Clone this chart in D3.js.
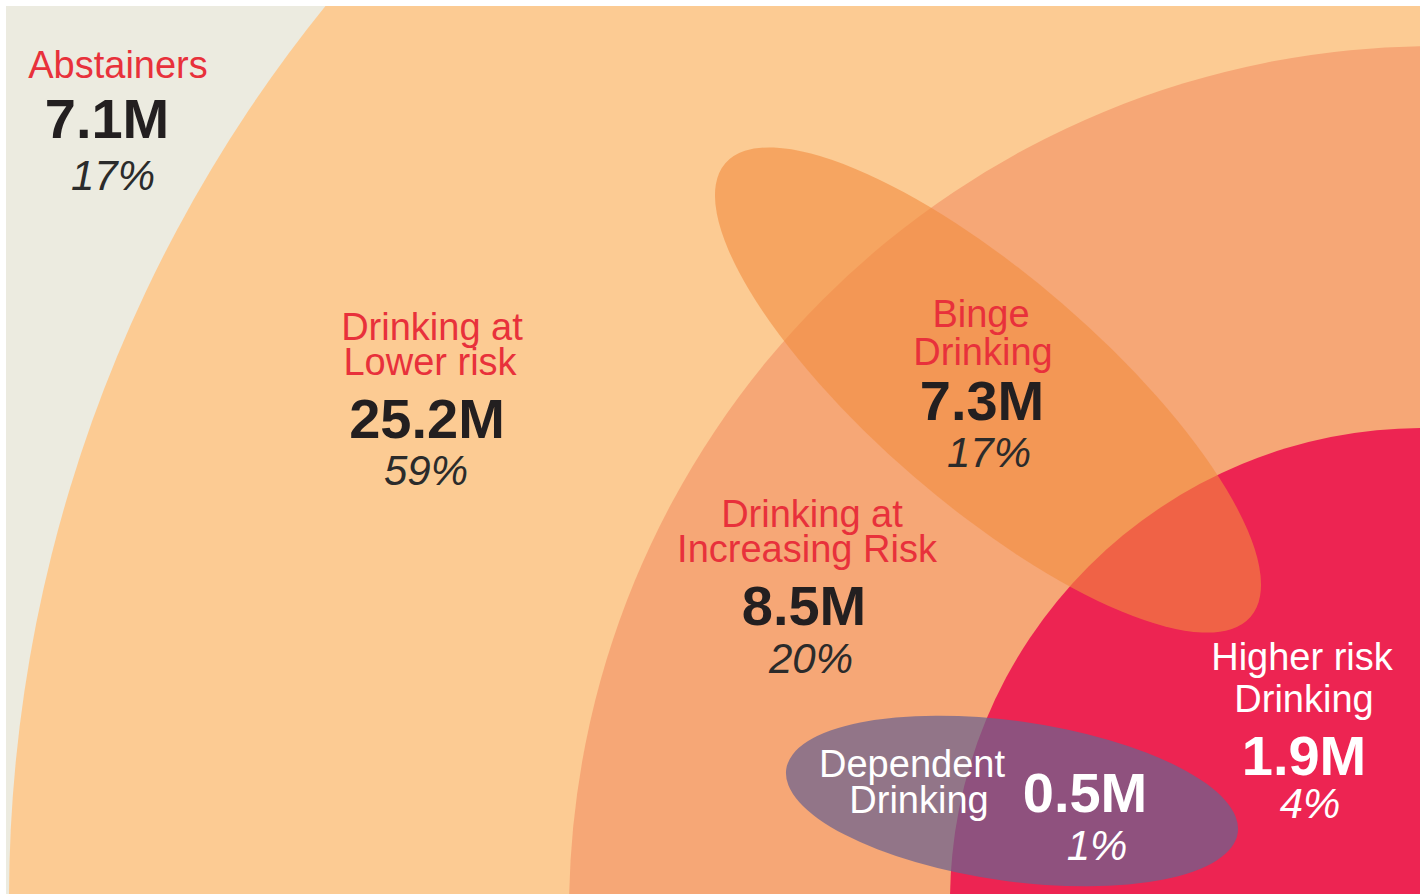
<!DOCTYPE html>
<html>
<head>
<meta charset="utf-8">
<script src="https://cdn.jsdelivr.net/npm/d3@7"></script>
<style>
  html, body { margin: 0; padding: 0; background: #fff; }
  svg { display: block; }
  text { font-family: Arial, "Liberation Sans", Helvetica, sans-serif; }
</style>
</head>
<body>
<div id="chart"></div>
<script>
// Data
const groups = ["abstainers", "lower", "increasing", "binge", "higher", "dependent"];
const labelLines = [
  ["Abstainers"],
  ["Drinking at", "Lower risk"],
  ["Drinking at", "Increasing Risk"],
  ["Binge", "Drinking"],
  ["Higher risk", "Drinking"],
  ["Dependent", "Drinking"]
];
const millions = [7.1, 25.2, 8.5, 7.3, 1.9, 0.5];
const percents = [17, 59, 20, 17, 4, 1];

// nested drinking rings (outer to inner)
const ringGroups = ["lower", "increasing", "higher"];

const width = 1421;
const height = 896;
const panel = { x: 6, y: 6, w: 1414, h: 888 };

// layout, in panel coordinates
const ringCenters = { lower: [1424, 894], increasing: [1429, 906], higher: [1417, 895] };
const cumulative = [1.9, 8.5 + 1.9, 25.2 + 8.5 + 1.9]; // higher, increasing+higher, all drinkers
const radius = d3.scaleLinear().domain(cumulative).range([473, 866, 1421]);

const ellipses = {
  binge: { cx: 982, cy: 384, rx: 347, ry: 114, rot: 40.8 },
  dependent: { cx: 1006, cy: 795, rx: 228, ry: 80, rot: 8 }
};

const textPos = {
  abstainers: { lines: [[112, 72]], value: [101, 132], pct: [107, 184] },
  lower:      { lines: [[426, 334], [424, 369]], value: [421, 432], pct: [420, 479] },
  increasing: { lines: [[806, 521], [801, 556]], value: [798, 619], pct: [805, 667] },
  binge:      { lines: [[975, 321], [977, 359]], value: [976, 414], pct: [983, 461] },
  higher:     { lines: [[1296, 664], [1298, 706]], value: [1298, 769], pct: [1304, 812] },
  dependent:  { lines: [[906, 771], [913, 807]], value: [1079, 806], pct: [1091, 854] }
};

const colors = {
  panel: "#ECEBE0",
  lower: "#FCCB93",
  increasing: "#F6A776",
  higher: "#ED2452",
  binge: "#F28C40",
  dependent: "#6B638F"
};

const x = d3.scaleLinear().domain([0, panel.w]).range([panel.x, panel.x + panel.w]);
const y = d3.scaleLinear().domain([0, panel.h]).range([panel.y, panel.y + panel.h]);

const svg = d3.select("#chart").append("svg")
  .attr("width", width)
  .attr("height", height);

svg.append("defs").append("clipPath")
  .attr("id", "panel-clip")
  .append("rect")
  .attr("x", x(0)).attr("y", y(0))
  .attr("width", x(panel.w) - x(0))
  .attr("height", y(panel.h) - y(0));

const g = svg.append("g").attr("clip-path", "url(#panel-clip)");

g.append("rect")
  .attr("x", x(0)).attr("y", y(0))
  .attr("width", x(panel.w) - x(0))
  .attr("height", y(panel.h) - y(0))
  .attr("fill", colors.panel);

// rings
const ringData = ringGroups.map((k, i) => ({ key: k, total: cumulative[cumulative.length - 1 - i] }));
g.selectAll(".ring")
  .data(ringData)
  .enter().append("circle")
  .attr("class", "ring")
  .attr("cx", d => x(ringCenters[d.key][0]))
  .attr("cy", d => y(ringCenters[d.key][1]))
  .attr("r", d => radius(d.total))
  .attr("fill", d => colors[d.key]);

// overlapping ellipses
g.append("ellipse")
  .attr("transform", `translate(${x(ellipses.binge.cx)},${y(ellipses.binge.cy)}) rotate(${ellipses.binge.rot})`)
  .attr("rx", ellipses.binge.rx)
  .attr("ry", ellipses.binge.ry)
  .attr("fill", colors.binge)
  .attr("fill-opacity", 0.6);

g.append("ellipse")
  .attr("transform", `translate(${x(ellipses.dependent.cx)},${y(ellipses.dependent.cy)}) rotate(${ellipses.dependent.rot})`)
  .attr("rx", ellipses.dependent.rx)
  .attr("ry", ellipses.dependent.ry)
  .attr("fill", colors.dependent)
  .attr("fill-opacity", 0.72);

// labels
const isLight = k => k === "higher" || k === "dependent";

groups.forEach((k, i) => {
  const pos = textPos[k];
  const lab = svg.append("g");
  labelLines[i].forEach((line, j) => {
    lab.append("text")
      .attr("x", x(pos.lines[j][0]))
      .attr("y", y(pos.lines[j][1]))
      .attr("text-anchor", "middle")
      .attr("font-size", 38)
      .attr("fill", isLight(k) ? "#FFFFFF" : "#E8313B")
      .text(line);
  });
  lab.append("text")
    .attr("x", x(pos.value[0]))
    .attr("y", y(pos.value[1]))
    .attr("text-anchor", "middle")
    .attr("font-size", 56)
    .attr("font-weight", "bold")
    .attr("fill", isLight(k) ? "#FFFFFF" : "#231F20")
    .text(millions[i] + "M");
  lab.append("text")
    .attr("x", x(pos.pct[0]))
    .attr("y", y(pos.pct[1]))
    .attr("text-anchor", "middle")
    .attr("font-size", 42)
    .attr("font-style", "italic")
    .attr("fill", isLight(k) ? "#FFFFFF" : "#2B2B2B")
    .text(percents[i] + "%");
});
</script>
</body>
</html>
